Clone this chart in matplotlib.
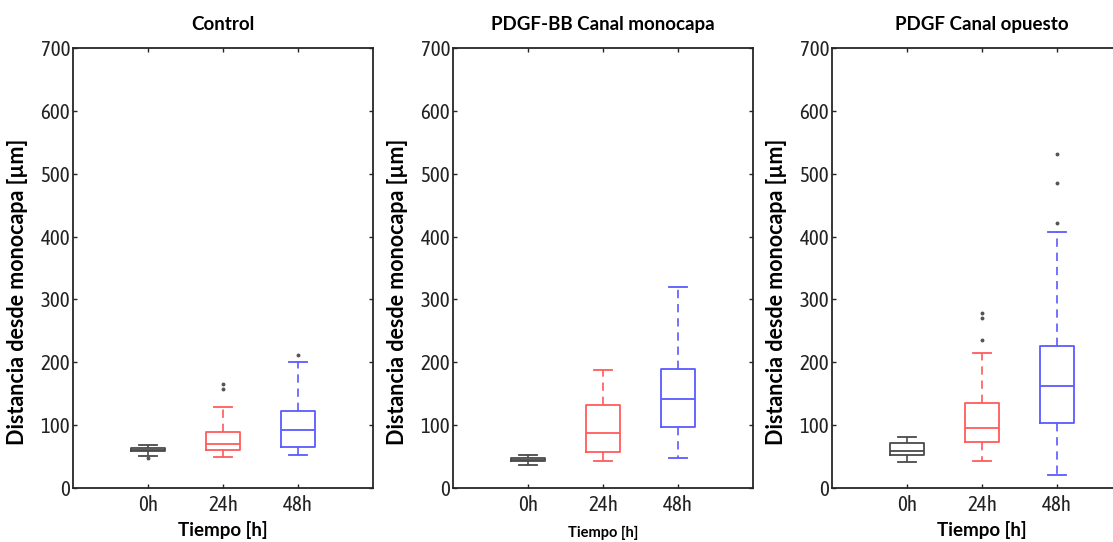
import matplotlib
matplotlib.use("Agg")
import matplotlib.pyplot as plt
from matplotlib import font_manager
from matplotlib.font_manager import FontProperties

# ---------------- data ----------------
categories = ["0h", "24h", "48h"]
titles = ["Control", "PDGF-BB Canal monocapa", "PDGF Canal opuesto"]

ctrl_q1 = [58.5, 60, 66]
ctrl_med = [60, 70, 92]
ctrl_q3 = [63, 89, 123]
ctrl_lo = [51, 50, 53]
ctrl_hi = [68, 129, 200]
ctrl_fliers = [[47], [158, 166], [211]]

bb_q1 = [42.5, 58, 97]
bb_med = [44, 87, 141]
bb_q3 = [47, 132, 190]
bb_lo = [37, 42.5, 47]
bb_hi = [52, 187, 320]
bb_fliers = [[], [], []]

op_q1 = [52, 72.5, 104]
op_med = [59, 95, 163]
op_q3 = [71, 136, 226]
op_lo = [41, 43, 20]
op_hi = [81, 215, 408]
op_fliers = [[], [236, 270, 278], [421, 486, 532]]

yticks = [0, 100, 200, 300, 400, 500, 600, 700]
xlabel_sizes = [13.5, 10.5, 13.5]

panels = [
    (ctrl_q1, ctrl_med, ctrl_q3, ctrl_lo, ctrl_hi, ctrl_fliers),
    (bb_q1, bb_med, bb_q3, bb_lo, bb_hi, bb_fliers),
    (op_q1, op_med, op_q3, op_lo, op_hi, op_fliers),
]

# ---------------- fonts ----------------
ttf = font_manager.fontManager.ttflist
tick_fp = None
for pred in (lambda f: f.name == "Liberation Sans Narrow" and f.weight in (400, "normal") and f.style == "normal",
             lambda f: "Condensed" in f.name and f.style == "normal" and f.weight in (400, "normal"),
             lambda f: f.name == "DejaVu Sans" and f.stretch == "condensed" and f.style == "normal"
             and f.weight in (400, "normal")):
    cands = [f for f in ttf if pred(f)]
    if cands:
        tick_fp = FontProperties(fname=cands[0].fname, size=15)
        break
if tick_fp is None:
    tick_fp = FontProperties(family=["Liberation Sans", "DejaVu Sans"], size=13)

label_font = ["Lato", "Open Sans", "DejaVu Sans"]

colors = ["#4a4a4a", "#ff5a5a", "#5a5aff"]
spine_col = "#262626"

fig = plt.figure(figsize=(11.13, 5.42), dpi=100)
W, H = 1113, 542
lefts = [73, 453, 832]
ax_w, ax_top, ax_bot = 300, 48, 488

for i, (q1, med, q3, lo, hi, fl) in enumerate(panels):
    ax = fig.add_axes([lefts[i] / W, (H - ax_bot) / H, ax_w / W, (ax_bot - ax_top) / H])
    for k in range(len(categories)):
        st = dict(med=med[k], q1=q1[k], q3=q3[k], whislo=lo[k], whishi=hi[k],
                  fliers=fl[k], label=categories[k])
        c = colors[k]
        ax.bxp([st], positions=[k + 1], widths=0.45, showfliers=True,
               boxprops=dict(color=c, linewidth=1.3),
               medianprops=dict(color=c, linewidth=1.3),
               whiskerprops=dict(color=c, linewidth=1.2, linestyle=(0, (5, 3.5))),
               capprops=dict(color=c, linewidth=1.3),
               capwidths=0.24,
               flierprops=dict(marker='o', markersize=1.8, markerfacecolor="#555555",
                               markeredgecolor="#555555", linestyle='none'))
    ax.set_xlim(0, 4)
    ax.set_ylim(0, 700)
    ax.set_xticks([1, 2, 3])
    ax.set_xticklabels(categories)
    ax.set_yticks(yticks)
    ax.set_yticklabels([str(v) for v in yticks])
    for lab in ax.get_xticklabels() + ax.get_yticklabels():
        lab.set_fontproperties(tick_fp)
        lab.set_color("#222222")
    ax.tick_params(direction='in', length=3, width=1, color=spine_col,
                   top=True, right=True, pad=2)
    ax.tick_params(axis='x', pad=5)
    for s in ax.spines.values():
        s.set_color(spine_col)
        s.set_linewidth(1.3)
    ax.set_title(titles[i], fontfamily=label_font, fontweight='bold', fontsize=13.5, pad=13)
    ax.set_ylabel("Distancia desde monocapa [µm]", fontfamily=label_font,
                  fontweight='bold', fontsize=15.5)
    ax.yaxis.set_label_coords(-0.15, 0.445)
    ax.set_xlabel("Tiempo [h]", fontfamily=label_font, fontweight='bold',
                  fontsize=xlabel_sizes[i])
    ax.xaxis.set_label_coords(0.5, -0.075 if i != 1 else -0.085)

fig.savefig("out.png", dpi=100)
